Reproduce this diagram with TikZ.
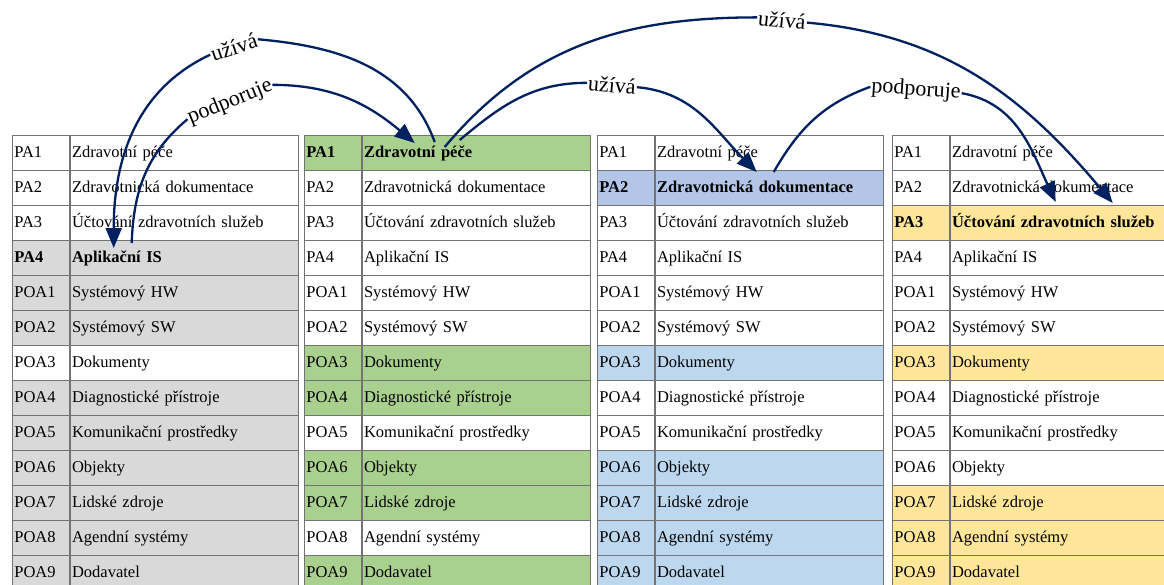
\documentclass[tikz,border=0pt]{standalone}
\usepackage{fontspec}
\setmainfont{Liberation Serif}
\usetikzlibrary{arrows.meta}

\definecolor{sed}{HTML}{D9D9D9}
\definecolor{zel}{HTML}{A9D08E}
\definecolor{mod}{HTML}{BDD7EE}
\definecolor{modh}{HTML}{B4C6E7}
\definecolor{zlu}{HTML}{FFE699}
\definecolor{bil}{HTML}{FFFFFF}
\definecolor{namor}{HTML}{002060}

\newcommand{\cellfont}{\fontsize{16.5}{19}\selectfont}
\newcommand{\popisfont}{\fontsize{22}{25}\selectfont}

\tikzset{
  bunka/.style={draw=black!55, line width=0.7pt, anchor=north west,
    minimum height=35pt, inner xsep=2pt, inner ysep=0pt,
    text height=12pt, text depth=2.5pt, align=left},
  kodbunka/.style={bunka, text width=53pt},
  nazevbunka/.style={bunka, text width=224pt},
  vztah/.style={draw=namor, line width=2.3pt},
  sipka/.style={vztah, -{Triangle[length=20pt,width=16pt]}},
  popis/.style={font=\popisfont, inner sep=1pt},
}

% one row of table #1 at x = #2, fill #3, bold row #4
\newcommand{\radek}[4]{%
  \ifnum\r=#4 \def\rez{\bfseries}\else\def\rez{}\fi
  \node[kodbunka, fill=#3, font=\cellfont\rez] (t#1c\r) at (#2,{135+35*(\r-1)}) {\kod};
  \node[nazevbunka, fill=#3, font=\cellfont\rez] (t#1n\r) at (t#1c\r.north east) {\nazev};
}

\begin{document}
\begin{tikzpicture}[x=1pt, y=-1pt]
  \useasboundingbox (0,0) rectangle (1164,584);
  \clip (0,0) rectangle (1164,584);

  % Tables
  \foreach [count=\r] \kod/\nazev/\ba/\bb/\bc/\bd in {
      PA1/Zdravotní péče/bil/zel/bil/bil,
      PA2/Zdravotnická dokumentace/bil/bil/modh/bil,
      PA3/Účtování zdravotních služeb/bil/bil/bil/zlu,
      PA4/Aplikační IS/sed/bil/bil/bil,
      POA1/Systémový HW/sed/bil/bil/bil,
      POA2/Systémový SW/sed/bil/bil/bil,
      POA3/Dokumenty/bil/zel/mod/zlu,
      POA4/Diagnostické přístroje/sed/zel/bil/bil,
      POA5/Komunikační prostředky/sed/bil/bil/bil,
      POA6/Objekty/sed/zel/mod/bil,
      POA7/Lidské zdroje/sed/zel/mod/zlu,
      POA8/Agendní systémy/sed/bil/mod/zlu,
      POA9/Dodavatel/sed/zel/mod/zlu}{
    \radek{1}{12}{\ba}{4}
    \radek{2}{304}{\bb}{1}
    \radek{3}{597}{\bc}{2}
    \radek{4}{892}{\bd}{3}
  }

  % Labels
  \node[popis, rotate=18] (uz1) at (234,47) {užívá};
  \node[popis, rotate=22] (po1) at (230,102) {podporuje};
  \node[popis, rotate=-6] (uz2) at (782,20) {užívá};
  \node[popis, rotate=-5] (uz3) at (612,85) {užívá};
  \node[popis, rotate=-4] (po2) at (916,90) {podporuje};

  % Arrow ends
  \coordinate (z1) at ([xshift=73pt,yshift=-7pt]t2n1.north west);
  \coordinate (z2) at ([xshift=62pt,yshift=-3pt]t1n4.north west);
  \coordinate (z3) at ([xshift=83pt,yshift=-12pt]t2n1.north west);
  \coordinate (z4) at ([xshift=98pt,yshift=-5pt]t2n1.north west);
  \coordinate (z5) at ([xshift=119pt,yshift=-2pt]t3n2.north west);
  \coordinate (k1) at ([xshift=44pt,yshift=-8pt]t1n4.north west);
  \coordinate (k2) at ([xshift=53pt,yshift=-8pt]t2n1.north west);
  \coordinate (k3) at ([xshift=163pt,yshift=2pt]t4n3.north west);
  \coordinate (k4) at ([xshift=102pt,yshift=-2pt]t3n2.north west);
  \coordinate (k5) at ([xshift=106pt,yshift=3pt]t4n3.north west);

  % Arrows
  \draw[vztah] (z1) to[out=110, in=-5] (uz1.east);
  \draw[sipka] (uz1.west) to[out=205, in=90] (k1);
  \draw[vztah] (z2) to[out=88, in=220] (po1.west);
  \draw[sipka] (po1.east) to[out=0, in=140] (k2);
  \draw[vztah] (z3) to[out=50, in=180] (uz2.west);
  \draw[sipka] (uz2.east) to[out=-5, in=130] (k3);
  \draw[vztah] (z4) to[out=40, in=180] (uz3.west);
  \draw[sipka] (uz3.east) to[out=-5, in=135] (k4);
  \draw[vztah] (z5) to[out=60, in=200] (po2.west);
  \draw[sipka] (po2.east) to[out=-10, in=115] (k5);
\end{tikzpicture}
\end{document}
